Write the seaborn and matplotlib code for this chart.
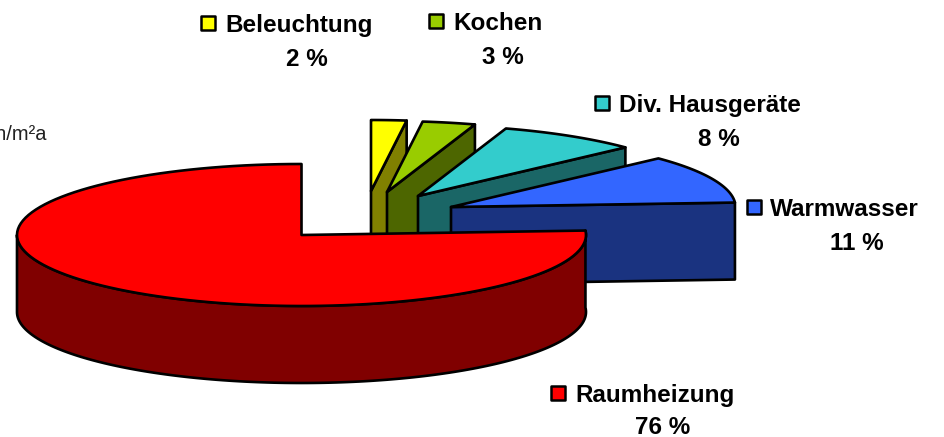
import numpy as np
import pandas as pd
import seaborn as sns
import matplotlib
matplotlib.use("Agg")
import matplotlib.pyplot as plt

# Data
categories = ["Beleuchtung", "Kochen", "Div. Hausgeräte", "Warmwasser", "Raumheizung"]
shares = [2, 3, 8, 11, 76]

# Colours
top_colors = ["#FFFF00", "#99CC00", "#33CCCC", "#3366FF", "#FF0000"]
side_colors = ["#808000", "#4D6600", "#1A6666", "#1A3380", "#800000"]

# Layout, in pixels of the 945x437 picture
apex_x = [371, 387, 418, 451, 301.5]
apex_y = [191, 192, 196, 207, 235]
radius_x = 284.5
radius_y = 71
depth = 77
swatch_x = [208, 436, 602, 754, 558]
swatch_y = [23, 21, 103, 207, 393]
name_x = [225, 453, 619, 770, 575]
name_y = [32, 30, 112, 216, 402]
share_x = [307, 503, 719, 857, 663]
share_y = [66, 64, 146, 250, 434]

sns.set_theme(style = "white")
plt.rcParams["font.family"] = ["Liberation Sans", "DejaVu Sans"]

f, ax = plt.subplots(figsize = (9.45, 4.37), dpi = 100)
ax.set_position([0, 0, 1, 1])
ax.set_xlim(0, 945)
ax.set_ylim(437, 0)
ax.axis("off")

# Wedge Angles, Clockwise From Twelve O'Clock
edges = np.radians(np.concatenate([[0], np.cumsum(shares)]) / 100 * 360)


def rim(cx, cy, t):
    return cx + radius_x * np.sin(t), cy - radius_y * np.cos(t)


# Draw Back To Front So The Big Slice Covers The Others
for i in range(len(shares)):
    cx, cy = apex_x[i], apex_y[i]
    t = np.linspace(edges[i], edges[i + 1], 120)
    x, y = rim(cx, cy, t)

    style = dict(edgecolor = "black", linewidth = 1.9, joinstyle = "round")

    # Cut Face Along The Closing Edge
    if edges[i + 1] < np.pi / 2:
        ax.fill([cx, x[-1], x[-1], cx], [cy, y[-1], y[-1] + depth, cy + depth],
                facecolor = side_colors[i], **style)

    # Outer Wall, Only The Part Facing The Viewer
    t_wall = np.linspace(max(edges[i], 0), min(edges[i + 1], 3 * np.pi / 2), 160)
    if edges[i + 1] > np.pi / 2:
        wx, wy = rim(cx, cy, t_wall)
        ax.fill(np.r_[wx, wx[::-1]], np.r_[wy, wy[::-1] + depth],
                facecolor = side_colors[i], **style)

    # Top Face
    ax.fill(np.r_[cx, x], np.r_[cy, y], facecolor = top_colors[i], **style)

# Labels With Square Key Marks
labels = pd.DataFrame({"x": swatch_x, "y": swatch_y, "name": categories})
sns.scatterplot(data = labels, x = "x", y = "y", hue = "name",
                palette = dict(zip(categories, top_colors)), marker = "s",
                s = 115, edgecolor = "black", linewidth = 1.8,
                legend = False, ax = ax, zorder = 5, clip_on = False)
ax.set(xlabel = "", ylabel = "")

for i, name in enumerate(categories):
    ax.text(name_x[i], name_y[i], name, fontsize = 17.5, fontweight = "bold",
            color = "black", ha = "left", va = "baseline")
    ax.text(share_x[i], share_y[i], f"{shares[i]} %", fontsize = 17.5,
            fontweight = "bold", color = "black", ha = "center", va = "baseline")

# Unit Text Cut Off By The Left Edge
ax.text(47, 140, "kWh/m²a", fontsize = 14.5, ha = "right", va = "baseline", color = "#222222")

f.savefig("out.png", dpi = 100)
